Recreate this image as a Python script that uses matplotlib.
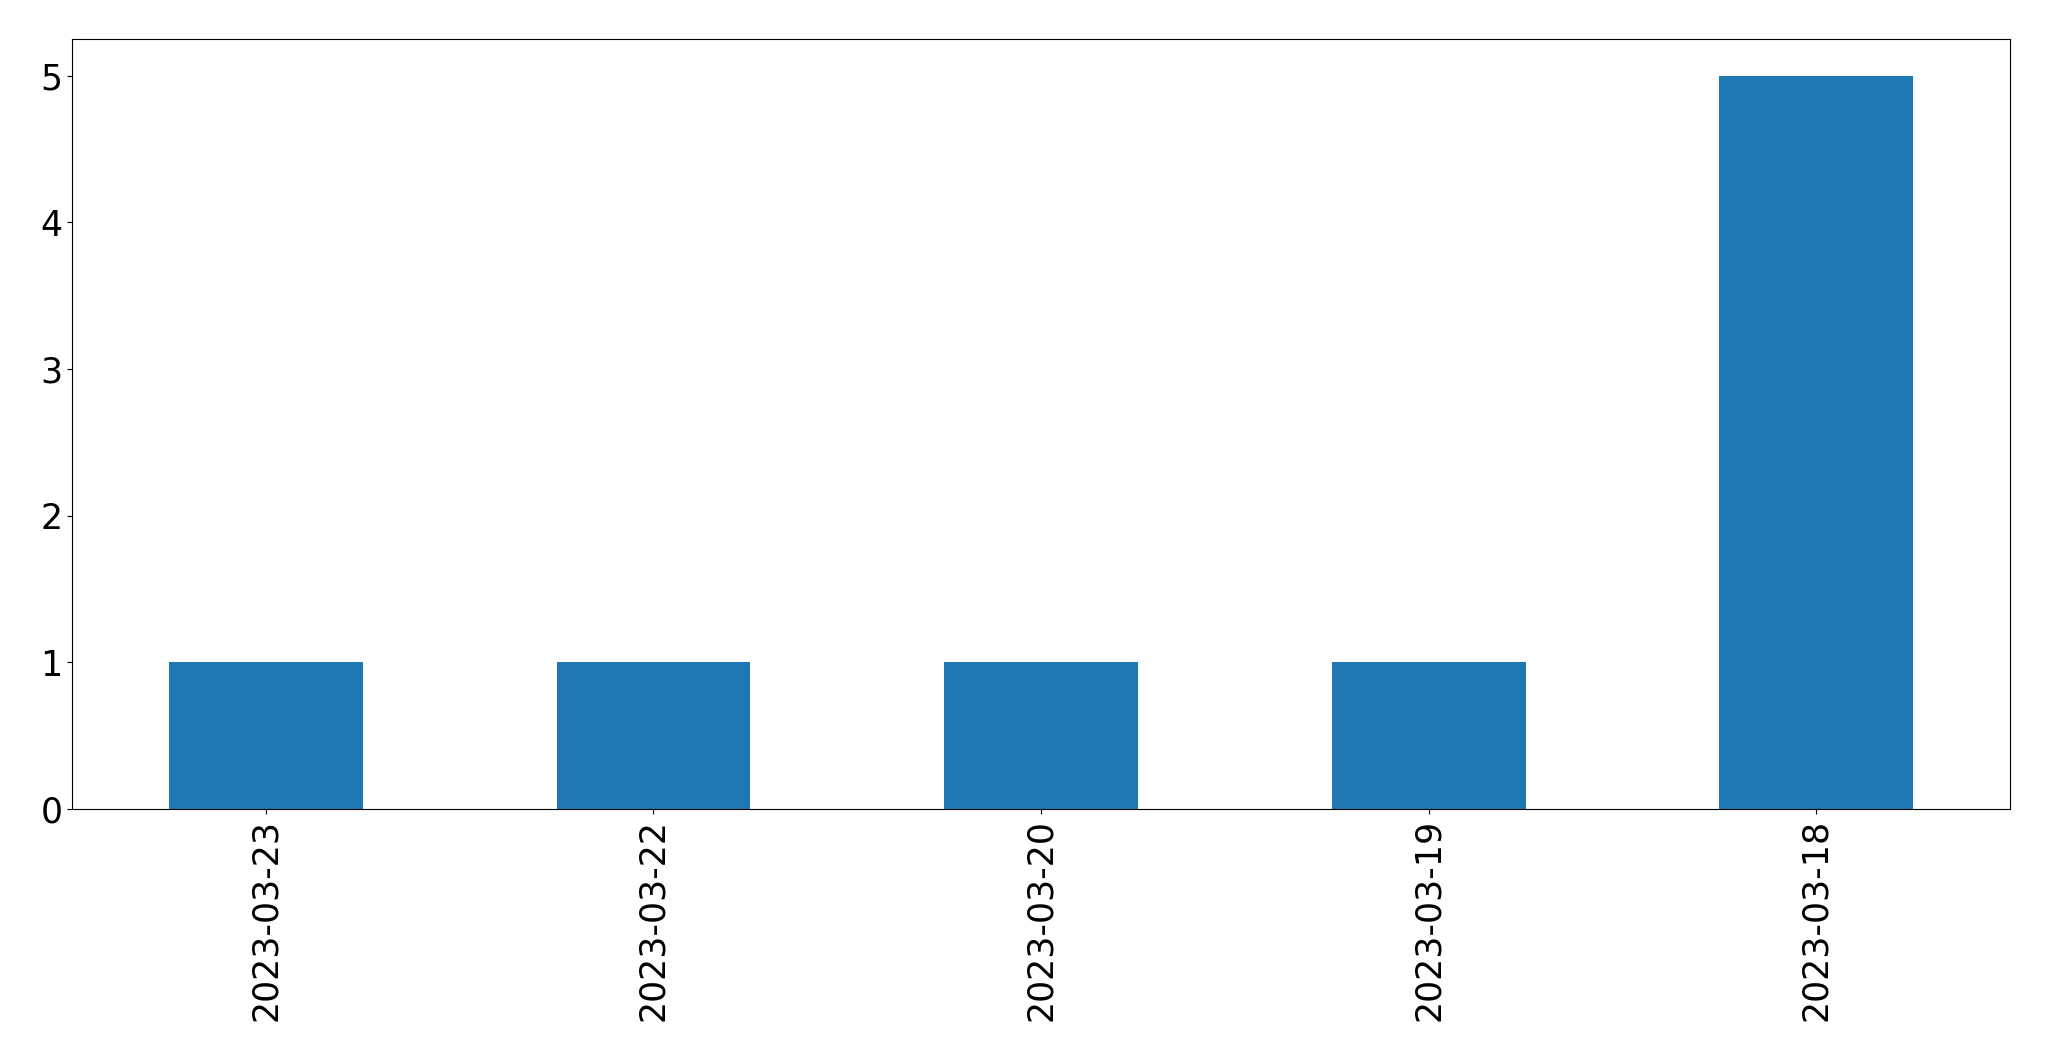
import matplotlib
matplotlib.use("Agg")
import matplotlib.pyplot as plt
import pandas as pd

dates = ["2023-03-23", "2023-03-22", "2023-03-20", "2023-03-19", "2023-03-18"]
counts = [1, 1, 1, 1, 5]

s = pd.Series(counts, index=dates)

fig = plt.figure(figsize=(20.49, 10.61), dpi=100)
ax = fig.add_axes([72/2049, 1-809/1061, (2010-72)/2049, (809-39)/1061])
s.plot(kind="bar", ax=ax, color="#1f77b4", fontsize=25)
ax.set_ylim(0, 5.25)
fig.savefig("out.png", dpi=100)
